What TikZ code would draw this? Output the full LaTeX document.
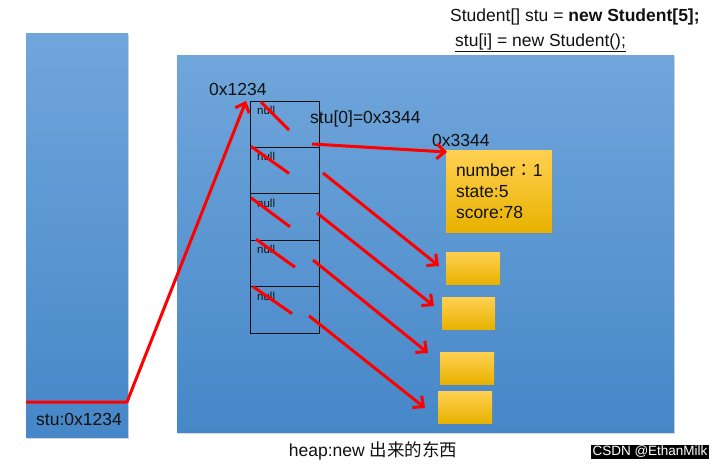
\documentclass[tikz,border=0pt]{standalone}
\usepackage{fontspec}
\setmainfont{Liberation Sans}
\newfontfamily\cjk{Noto Sans CJK SC}
\newfontfamily\cjkpunct{Noto Sans CJK TC}
\usetikzlibrary{positioning,arrows.meta,shadows}
\definecolor{ink}{HTML}{111111}
\definecolor{skyTop}{HTML}{70A6DB}
\definecolor{skyBot}{HTML}{4687C8}
\definecolor{goldTop}{HTML}{FFD052}
\definecolor{goldBot}{HTML}{E8B200}
\definecolor{ptrRed}{HTML}{FF0000}
\tikzset{
  mem/.style={draw=none, top color=skyTop, bottom color=skyBot, inner sep=0pt, outer sep=0pt, drop shadow={opacity=0.3, shadow xshift=1.2pt, shadow yshift=-1.8pt}},
  cell/.style={draw=ink, line width=1pt, minimum width=69pt, minimum height=46.4pt, inner sep=0pt, outer sep=0pt},
  obj/.style={draw=none, top color=goldTop, bottom color=goldBot, inner sep=0pt, outer sep=0pt, drop shadow={opacity=0.3, shadow xshift=1.2pt, shadow yshift=-1.8pt}},
  ptr/.style={ptrRed, line width=3pt, -{Straight Barb[length=8pt,width=15pt]}},
  strike/.style={ptrRed, line width=3pt},
  lbl/.style={font=\fontsize{17.5}{21}\selectfont, text=ink, inner sep=0pt},
  nul/.style={font=\fontsize{11.5}{13}\selectfont, text=ink, inner sep=0pt},
}

\begin{document}
\begin{tikzpicture}[x=1pt, y=-1pt]
\useasboundingbox[fill=white] (0,0) rectangle (722,466);
\node[mem, minimum width=102pt, minimum height=404pt] (stack) at (77,235) {};
\node[mem, minimum width=497pt, minimum height=377pt] (heap) at (425.5,243.5) {};
\node[cell] (c0) at (284.5,124.2) {};
\node[cell, below=0pt of c0] (c1) {};
\node[cell, below=0pt of c1] (c2) {};
\node[cell, below=0pt of c2] (c3) {};
\node[cell, below=0pt of c3] (c4) {};
\foreach \i in {0,...,4}
  \node[nul, anchor=north west] (n\i) at ([shift={(7,5)}]c\i.north west) {null};
\foreach \i/\ax/\ay/\bx/\by in {0/11/1/39/29, 1/1/-1/39/26, 2/1/4/40/33, 3/6/-1/45/27, 4/3/0/42/27}
  \draw[strike] ([shift={(\ax,\ay)}]c\i.north west) -- ([shift={(\bx,\by)}]c\i.north west);
\node[obj, minimum width=106pt, minimum height=82pt, text width=86pt, inner xsep=10pt, align=left, font=\fontsize{17.5}{21}\selectfont, text=ink] (s0) at (499,191) {number{\cjkpunct ：}1\\state:5\\score:78};
\node[obj, minimum width=54pt, minimum height=32pt] (s1) at (473,268) {};
\node[obj, minimum width=53pt, minimum height=32pt] (s2) at (468.5,313) {};
\node[obj, minimum width=54pt, minimum height=32pt] (s3) at (467,368) {};
\node[obj, minimum width=54pt, minimum height=32pt] (s4) at (465,407) {};
\node[lbl, anchor=west] (decl) at (450,17) {Student[] stu = \textbf{new Student[5];}};
\node[lbl, anchor=west] (init) at (455,43) {\underline{stu[i] = new Student();}};
\node[lbl, anchor=west] (addr) at (209,89) {0x1234};
\node[lbl, anchor=west] (elem) at (310,119) {stu[0]=0x3344};
\node[lbl, anchor=west] (oaddr) at (432,140) {0x3344};
\node[lbl, anchor=west] (sref) at (36,419) {stu:0x1234};
\node[lbl] (cap) at (373,451) {heap:new {\cjk 出来的东西}};
\node[fill=black, text=white, inner sep=1.5pt, font=\fontsize{13.5}{15}\selectfont] (mark) at (650,452) {CSDN @EthanMilk};
\coordinate (sp) at (26,402);
\coordinate (sq) at (127,402);
\draw[ptr, line join=round] (sp) -- (sq) -- ([xshift=-4pt]c0.north west);
\foreach \i/\sx/\sy/\ex/\ey in {0/-7/19.8/1/-39, 1/4/2.4/-7/-2, 2/-2/-4/-8/-7, 3/-6/-3.4/-12/-15, 4/-10/6/-13/1}
  \draw[ptr] ([shift={(\sx,\sy)}]c\i.east) -- ([shift={(\ex,\ey)}]s\i.west);
\end{tikzpicture}
\end{document}
